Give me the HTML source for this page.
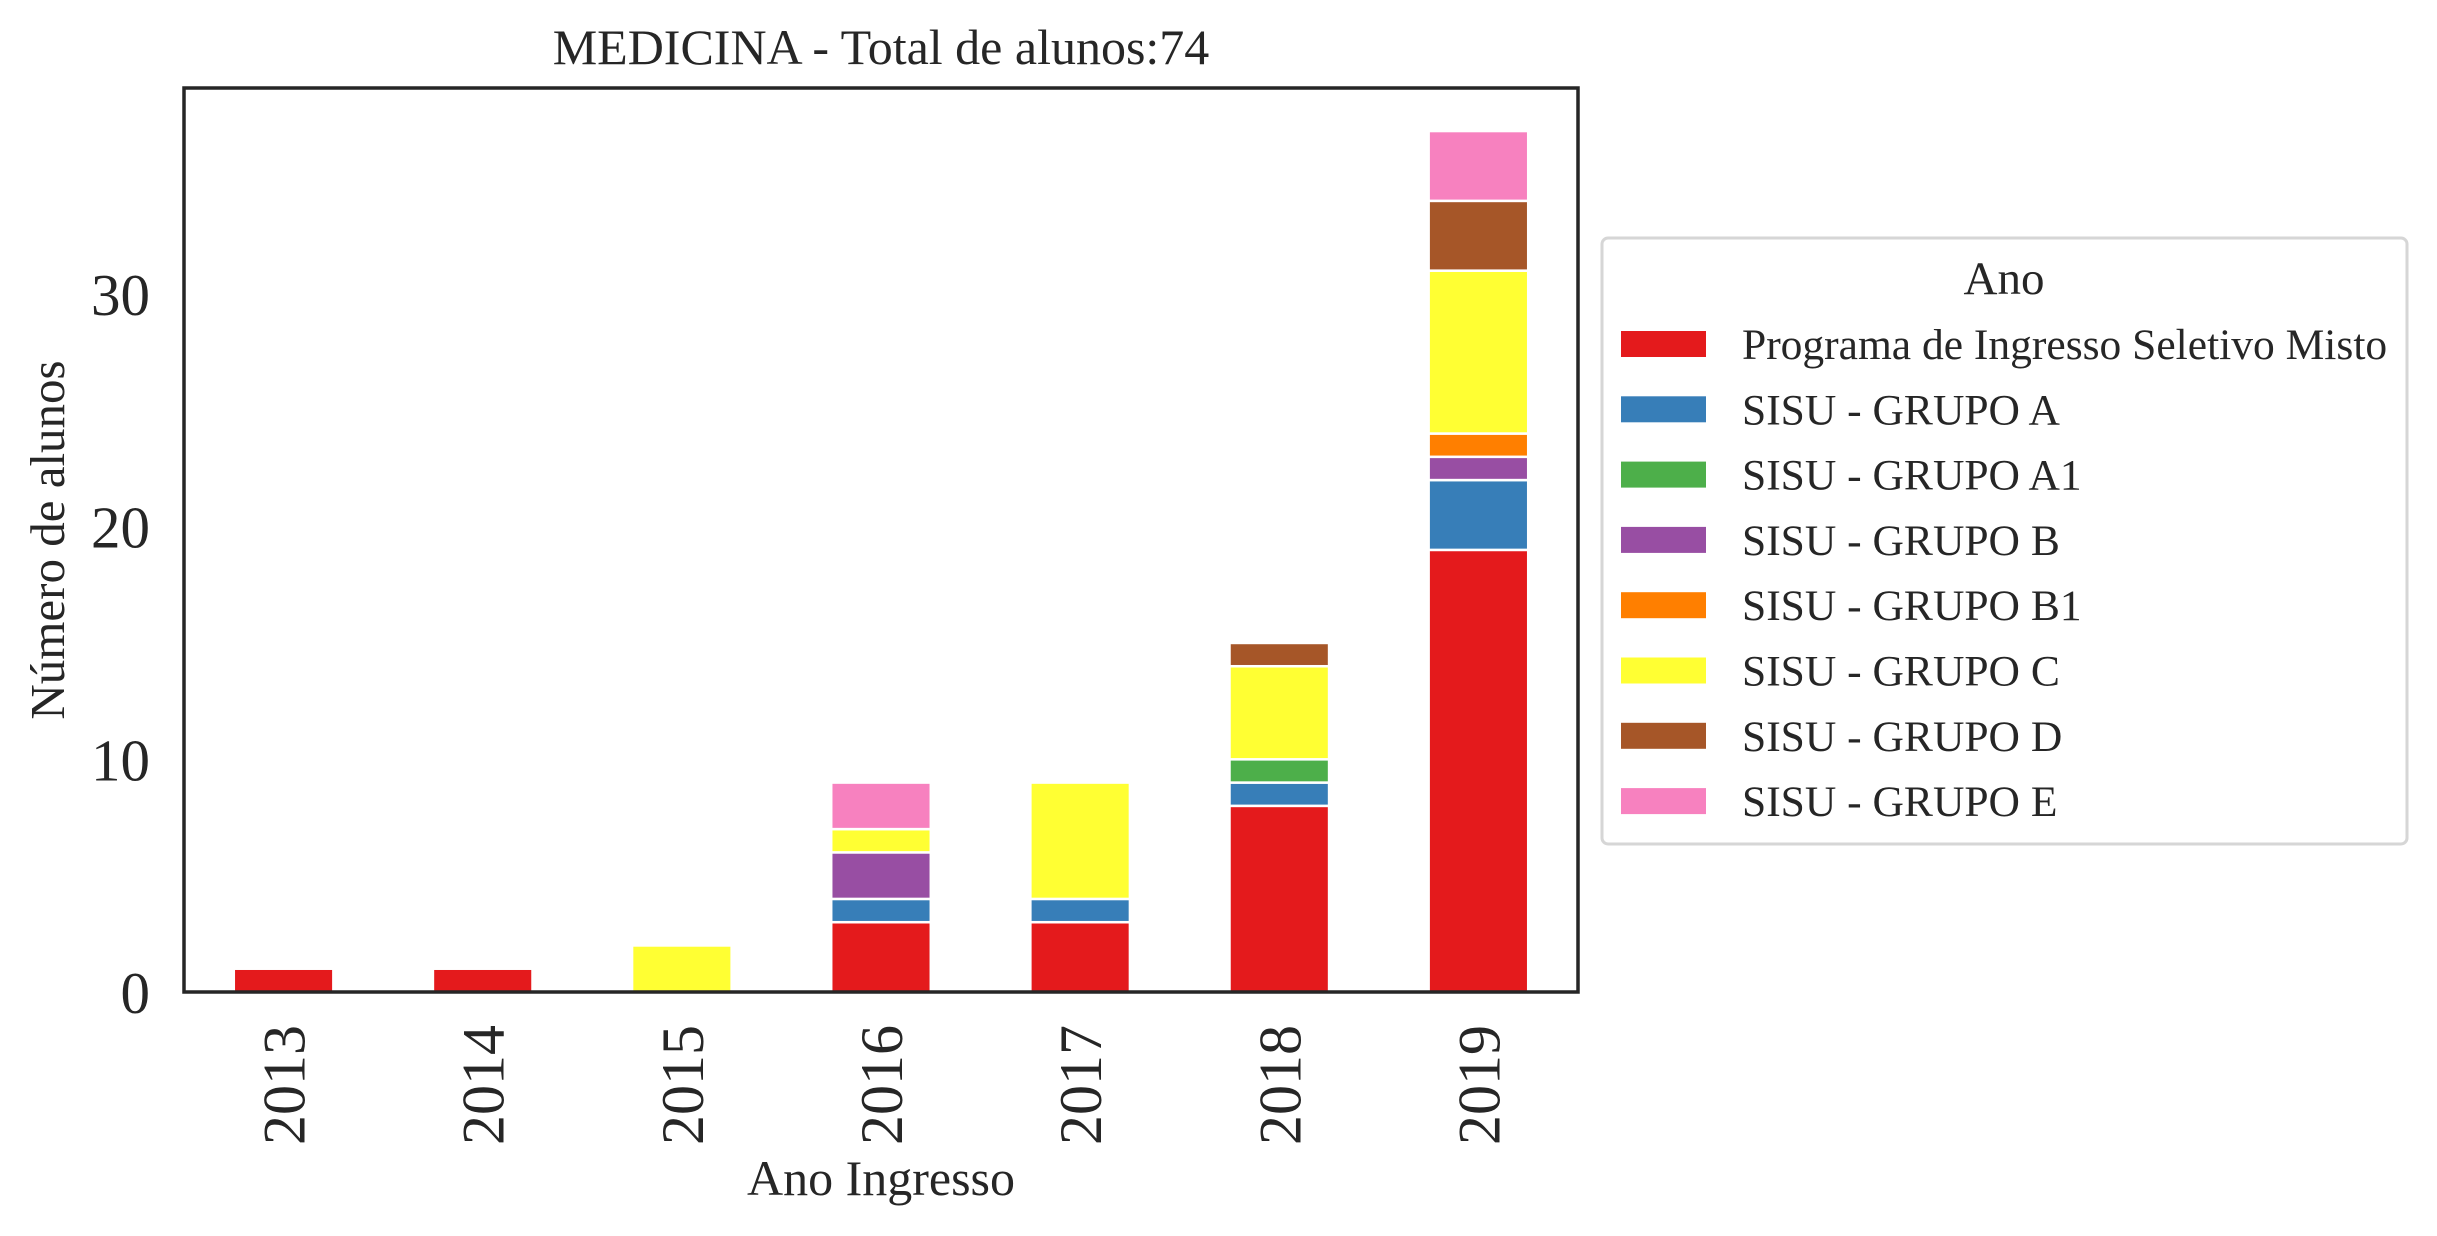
<!DOCTYPE html>
<html><head><meta charset="utf-8"><style>
body{margin:0;background:#fff}
svg{display:block;font-family:"Liberation Serif",serif;fill:#262626}
</style></head><body>
<svg id="chart" width="2437" height="1236" viewBox="0 0 2437 1236">
<text x="881" y="64" font-size="50" text-anchor="middle">MEDICINA - Total de alunos:74</text>
<text transform="translate(64,540) rotate(-90)" font-size="49" text-anchor="middle">Número de alunos</text>
<text x="881" y="1195" font-size="50" text-anchor="middle">Ano Ingresso</text>
<g id="bars"></g>
<g id="yticks"></g>
<g id="xticks"></g>
<rect x="184" y="88" width="1394" height="904" fill="none" stroke="#262626" stroke-width="3.5"/>
<g id="legend">
<rect x="1602" y="238" width="805" height="606" rx="6" fill="#fff" stroke="#d6d6d6" stroke-width="3"/>
<text x="2004" y="294" font-size="47" text-anchor="middle">Ano</text>
</g>
</svg>
<script>
const categories = ["2013","2014","2015","2016","2017","2018","2019"];
const seriesNames = ["Programa de Ingresso Seletivo Misto","SISU - GRUPO A","SISU - GRUPO A1","SISU - GRUPO B","SISU - GRUPO B1","SISU - GRUPO C","SISU - GRUPO D","SISU - GRUPO E"];
const seriesColors = ["#e41a1c","#377eb8","#4daf4a","#984ea3","#ff7f00","#ffff33","#a65628","#f781bf"];
const programa = [1,1,0,3,3,8,19];
const grupoA = [0,0,0,1,1,1,3];
const grupoA1 = [0,0,0,0,0,1,0];
const grupoB = [0,0,0,2,0,0,1];
const grupoB1 = [0,0,0,0,0,0,1];
const grupoC = [0,0,2,1,5,4,7];
const grupoD = [0,0,0,0,0,1,3];
const grupoE = [0,0,0,2,0,0,3];
const yTicks = [0,10,20,30];
const yMax = 38.85;

const series = [programa,grupoA,grupoA1,grupoB,grupoB1,grupoC,grupoD,grupoE];
const NS = "http://www.w3.org/2000/svg";
const L = 184, R = 1578, T = 88, B = 992;
const band = (R - L) / categories.length;
const xCenter = i => L + band * (i + 0.5);
const yPos = v => B - (v / yMax) * (B - T);
function mk(tag, attrs, parent){
  const e = document.createElementNS(NS, tag);
  for (const k in attrs) e.setAttribute(k, attrs[k]);
  parent.appendChild(e);
  return e;
}
const gb = document.getElementById('bars');
categories.forEach((c, i) => {
  let base = 0;
  series.forEach((s, j) => {
    const v = s[i];
    if (!v) return;
    const y0 = yPos(base), y1 = yPos(base + v);
    const r = mk('rect', {x: xCenter(i) - band * 0.25, y: y1, width: band * 0.5, height: y0 - y1, fill: seriesColors[j], stroke: '#fff', 'stroke-width': 2.5}, gb);
    
    
    base += v;
  });
});
const gy = document.getElementById('yticks');
yTicks.forEach(t => {
  const e = mk('text', {x: 150, y: yPos(t) + 21, 'font-size': 59, 'text-anchor': 'end'}, gy);
  e.textContent = t;
  
  
});
const gx = document.getElementById('xticks');
categories.forEach((c, i) => {
  const e = mk('text', {transform: 'translate(' + (xCenter(i) + 21) + ',1025) rotate(-90)', 'font-size': 60, 'text-anchor': 'end'}, gx);
  e.textContent = c;
  
  
});
const gl = document.getElementById('legend');
seriesNames.forEach((n, j) => {
  const cy = 344 + j * 65.3;
  const p = mk('rect', {x: 1621, y: cy - 13, width: 85, height: 26, fill: seriesColors[j]}, gl);
  
  
  const t = mk('text', {x: 1742, y: cy + 15, 'font-size': 43.5}, gl);
  t.textContent = n;
  
  
});
</script>
</body></html>
